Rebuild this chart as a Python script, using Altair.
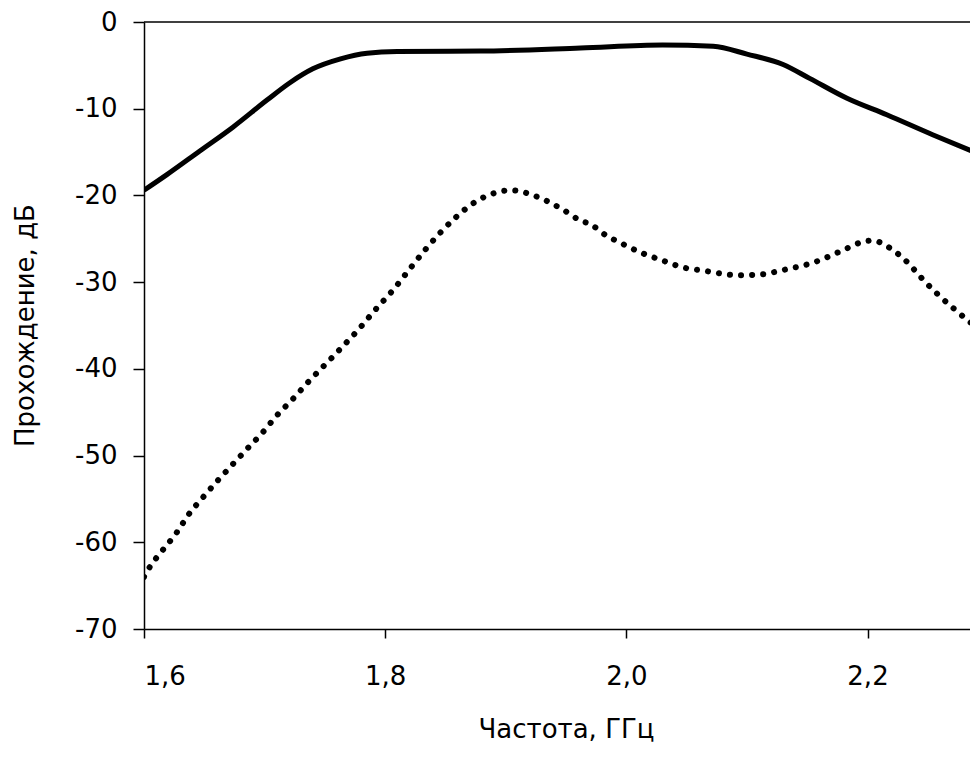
import altair as alt
import pandas as pd

# Solid curve (GHz, dB)
solid_x = [1.600, 1.619, 1.646, 1.674, 1.702, 1.721, 1.740, 1.763, 1.785, 1.810,
           1.879, 1.962, 2.030, 2.072, 2.100, 2.130, 2.152, 2.183, 2.216, 2.254, 2.292]
solid_y = [-19.4, -17.6, -14.9, -12.1, -9.0, -7.0, -5.4, -4.25, -3.6, -3.4,
           -3.35, -3.0, -2.65, -2.8, -3.7, -4.9, -6.5, -8.8, -10.7, -13.0, -15.2]

# Dotted curve (GHz, dB)
dot_x = [1.600, 1.605, 1.615, 1.627, 1.637, 1.649, 1.661, 1.673, 1.685, 1.698,
         1.710, 1.724, 1.735, 1.758, 1.777, 1.793, 1.806, 1.822, 1.833, 1.845,
         1.858, 1.872, 1.887, 1.905, 1.923, 1.947, 1.962, 1.970, 1.982, 1.997,
         2.014, 2.030, 2.047, 2.065, 2.093, 2.112, 2.130, 2.156, 2.180, 2.195,
         2.204, 2.219, 2.233, 2.246, 2.259, 2.272, 2.285, 2.292]
dot_y = [-64.0, -62.8, -61.0, -58.9, -56.8, -54.8, -52.9, -51.1, -49.3, -47.4,
         -45.4, -43.4, -41.7, -38.4, -35.6, -33.0, -31.0, -28.2, -26.3, -24.4,
         -22.6, -21.0, -19.9, -19.4, -20.0, -21.6, -22.9, -23.3, -24.5, -25.6,
         -26.7, -27.5, -28.3, -28.7, -29.2, -29.1, -28.6, -27.7, -26.3, -25.4,
         -25.2, -26.1, -27.7, -29.7, -31.5, -33.1, -34.6, -35.3]

x_ticks = [1.6, 1.8, 2.0, 2.2]
y_ticks = [-70, -60, -50, -40, -30, -20, -10, 0]

solid_df = pd.DataFrame({"f": solid_x, "s": solid_y})
dot_df = pd.DataFrame({"f": dot_x, "s": dot_y})
top_df = pd.DataFrame({"s": [0]})

FONT = "DejaVu Sans"

xscale = alt.Scale(domain=[1.6, 2.285], nice=False, zero=False)
yscale = alt.Scale(domain=[-70, 0], nice=False, zero=False)

xaxis = alt.Axis(
    title="Частота, ГГц", values=x_ticks,
    labelExpr="replace(format(datum.value, '.1f'), '.', ',')",
    grid=False, tickSize=9, labelPadding=46, labelBaseline="alphabetic",
    titleX=422, titleY=108, titleBaseline="alphabetic", titleAlign="center",
)
yaxis = alt.Axis(
    title="Прохождение, дБ", values=y_ticks,
    labelExpr="'' + datum.value",
    grid=False, tickSize=11, labelPadding=16,
    titleAngle=270, titleX=-111, titleY=303,
    titleBaseline="alphabetic", titleAlign="center",
)

solid = alt.Chart(solid_df).mark_line(
    color="black", strokeWidth=5, interpolate="monotone", clip=True
).encode(
    x=alt.X("f:Q", scale=xscale, axis=xaxis),
    y=alt.Y("s:Q", scale=yscale, axis=yaxis),
)

dotted = alt.Chart(dot_df).mark_line(
    color="black", strokeWidth=6, strokeDash=[0.1, 11], strokeCap="round",
    interpolate="monotone", clip=True
).encode(
    x=alt.X("f:Q", scale=xscale),
    y=alt.Y("s:Q", scale=yscale),
)

top_rule = alt.Chart(top_df).mark_rule(color="black", strokeWidth=1.5).encode(
    y=alt.Y("s:Q", scale=yscale)
)

chart = alt.layer(solid, dotted, top_rule).properties(
    width=826, height=607,
    padding={"left": 136, "top": 14, "right": 0, "bottom": 122},
    autosize=alt.AutoSizeParams(type="none"),
    background="white",
).configure_view(stroke=None).configure_axis(
    domainColor="black", domainWidth=1.5, tickColor="black", tickWidth=1.5,
    labelColor="black", labelFont=FONT, labelFontSize=26,
    titleColor="black", titleFont=FONT, titleFontSize=26, titleFontWeight="normal",
)

chart.save("out.html", embed_options={"renderer": "svg", "actions": False})
